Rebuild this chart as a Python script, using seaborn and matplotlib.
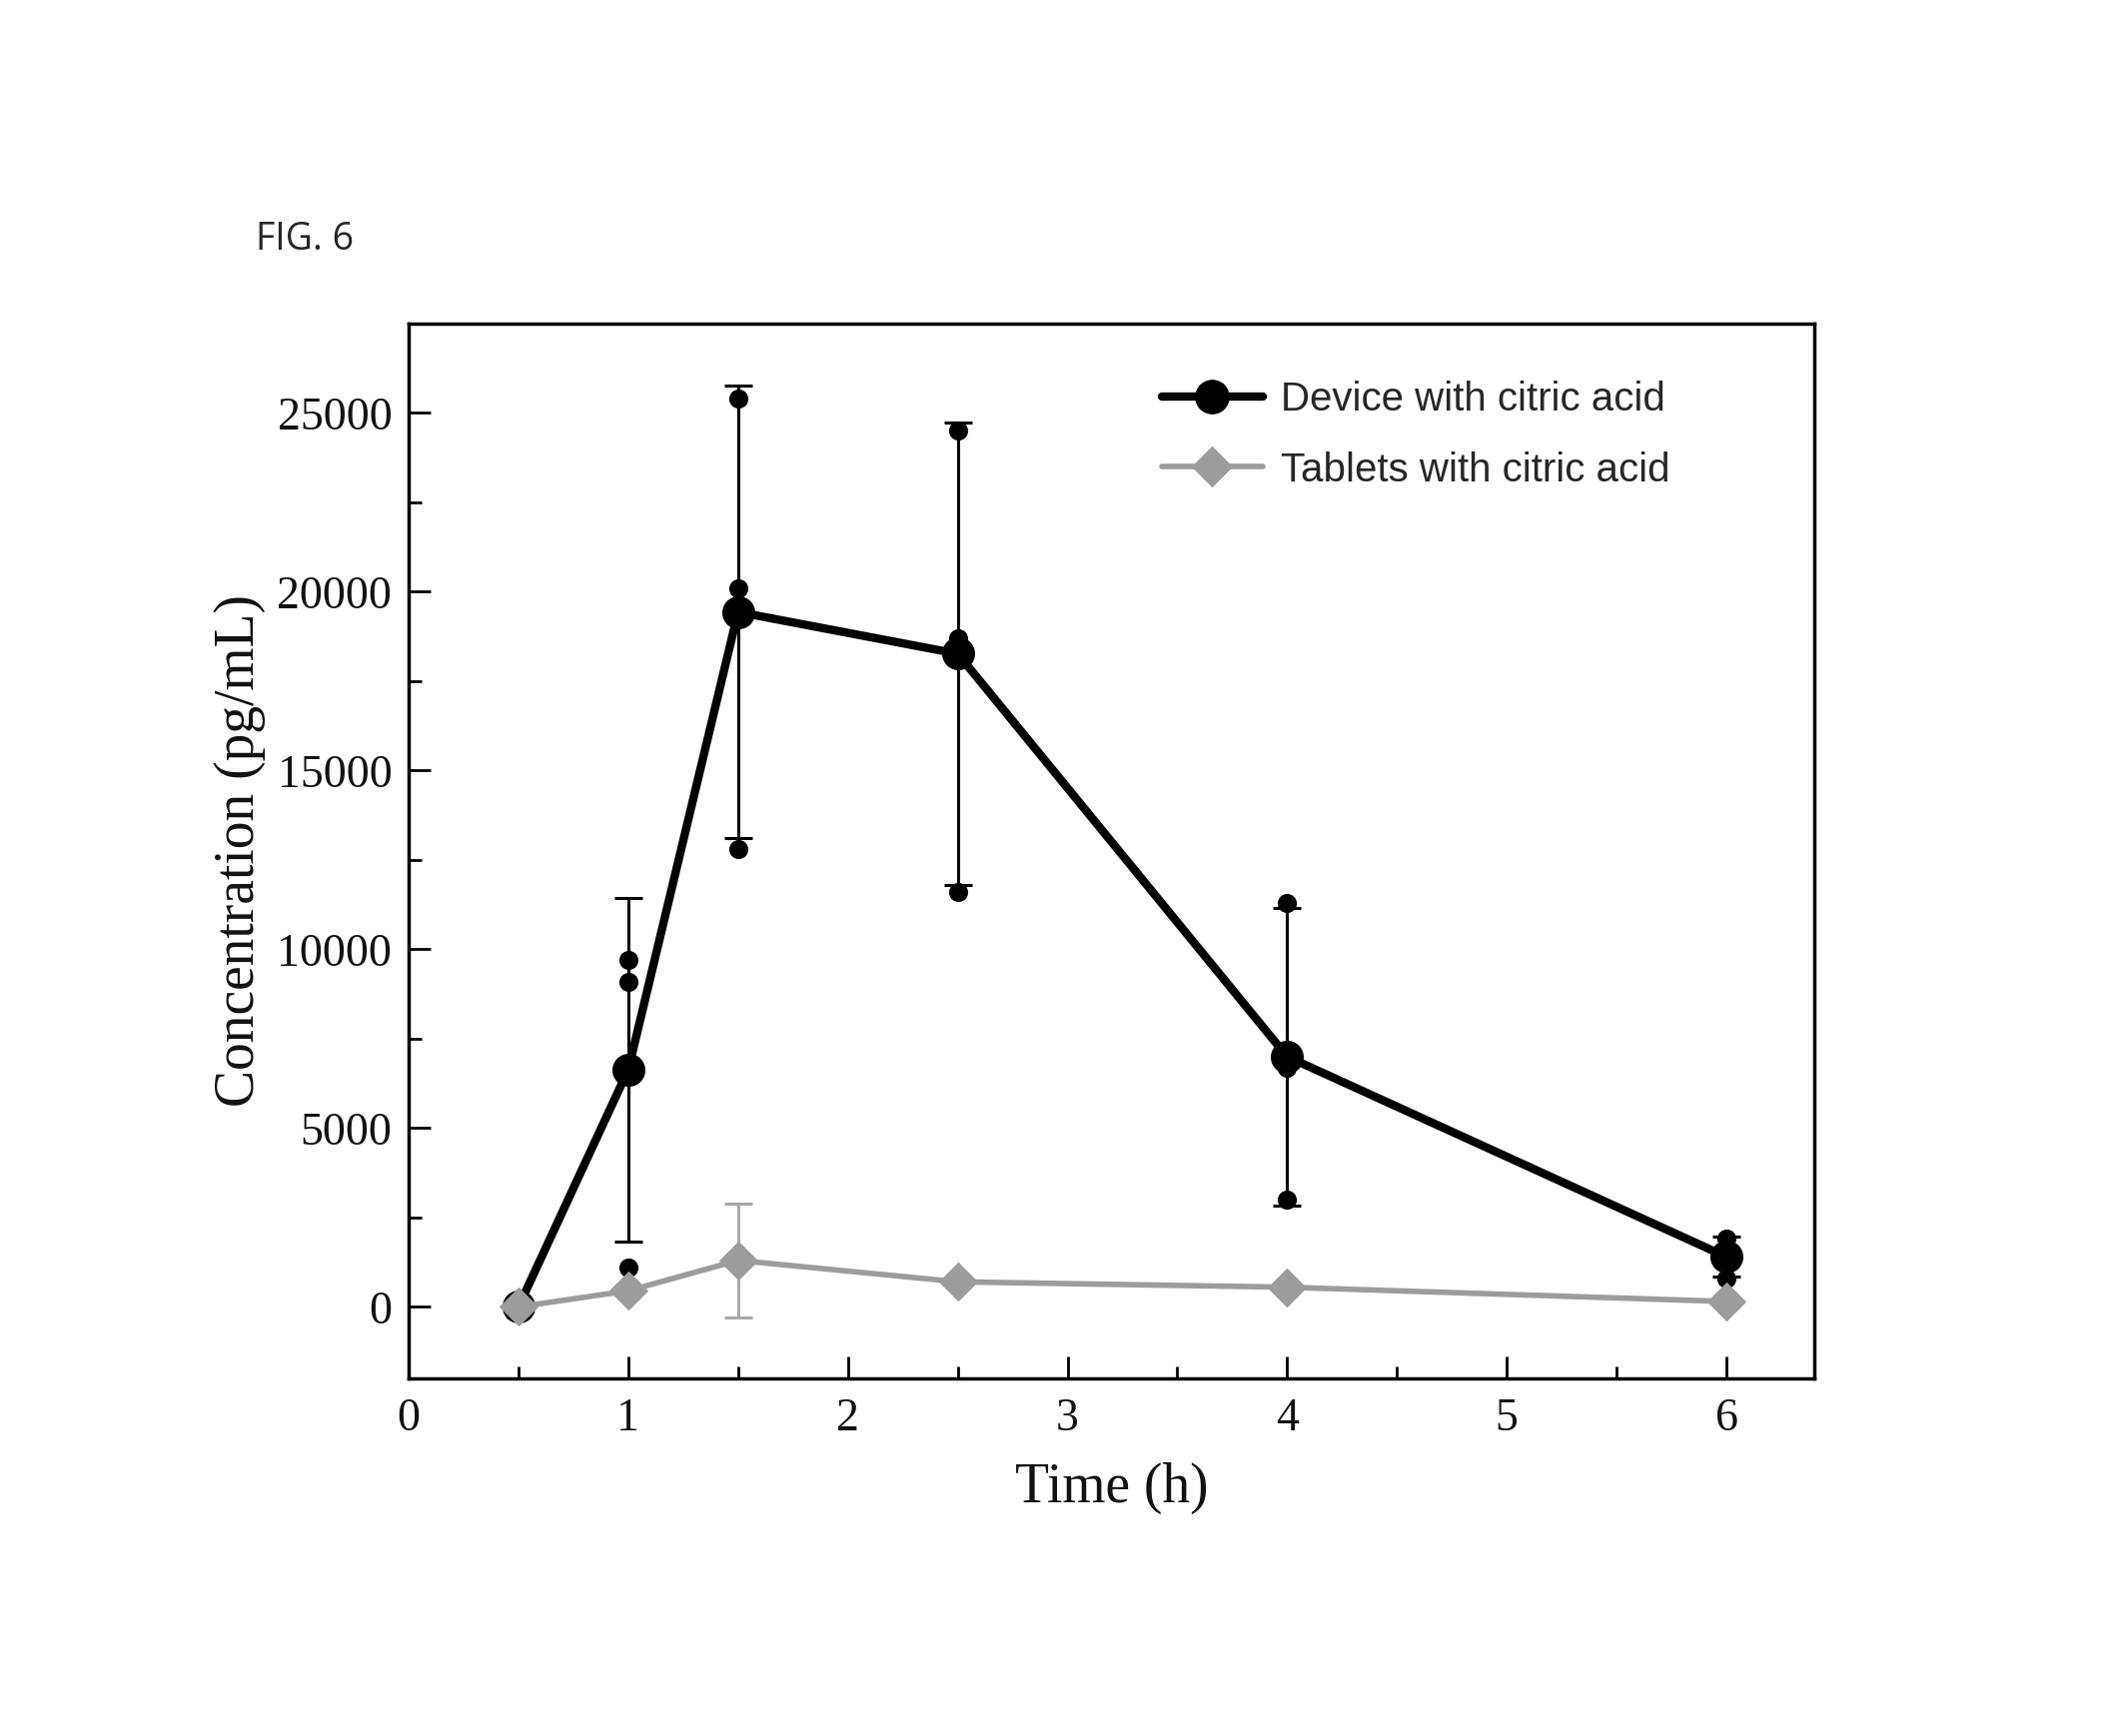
import numpy as np
import pandas as pd
import matplotlib
matplotlib.use("Agg")
import matplotlib.pyplot as plt
from matplotlib.ticker import MultipleLocator
import seaborn as sns

# device: three replicates per time point (pg/mL)
device_time = [0.5, 0.5, 0.5, 1, 1, 1, 1.5, 1.5, 1.5, 2.5, 2.5, 2.5, 4, 4, 4, 6, 6, 6]
device_conc = [0, 0, 0, 9700, 9100, 1100, 25400, 20100, 12800,
               24500, 18700, 11600, 11300, 6700, 3000, 1900, 1500, 800]

# tablets: mean and sd per time point
tablet_time = [0.5, 1, 1.5, 2.5, 4, 6]
tablet_mean = [0, 450, 1300, 700, 550, 150]
tablet_sd = [0, 0, 1600, 0, 0, 0]

x_ticks = [0, 1, 2, 3, 4, 5, 6]
y_ticks = [0, 5000, 10000, 15000, 20000, 25000]

serif = "Liberation Serif"
sans = "Liberation Sans"
gray = "#9c9c9c"

sns.set_theme(style="white")
plt.rcParams["font.family"] = [serif, "DejaVu Serif"]

fig = plt.figure(figsize=(21.15, 17.38), dpi=100)
ax = fig.add_axes([0.1934, 0.206, 0.6652, 0.6076])

device = pd.DataFrame({"time": device_time, "conc": device_conc})
tablets = pd.DataFrame({"time": tablet_time, "conc": tablet_mean, "sd": tablet_sd})

# replicate dots
sns.scatterplot(data=device, x="time", y="conc", ax=ax, color="black",
                s=190, linewidth=0, zorder=3, legend=False)

# mean line with SD bars
sns.lineplot(data=device, x="time", y="conc", ax=ax, color="black",
             estimator="mean", errorbar="sd", err_style="bars",
             err_kws={"capsize": 10, "elinewidth": 2.2, "capthick": 2.2},
             marker="o", markersize=23, markeredgecolor="black", linewidth=6,
             label="Device with citric acid", zorder=4)

tab = tablets[tablets["sd"] > 0]
ax.errorbar(tab["time"], tab["conc"], yerr=tab["sd"], fmt="none",
            ecolor="#a8a8a8", elinewidth=2.2, capsize=10, capthick=2.2, zorder=5)
sns.lineplot(data=tablets, x="time", y="conc", ax=ax, color=gray,
             marker="D", markersize=19, markeredgecolor=gray, linewidth=4,
             label="Tablets with citric acid", zorder=6)

ax.set_xlim(0, 6.4)
ax.set_ylim(-2000, 27500)
ax.set_xticks(x_ticks)
ax.set_yticks(y_ticks)
ax.xaxis.set_minor_locator(MultipleLocator(0.5))
ax.yaxis.set_minor_locator(MultipleLocator(2500))
ax.tick_params(which="major", direction="in", length=16, width=2,
               labelsize=33, color="black", labelcolor="#111111")
ax.tick_params(axis="x", which="major", pad=14)
ax.tick_params(axis="y", which="major", pad=12)
ax.tick_params(which="minor", direction="in", length=9, width=2, color="black")
ax.tick_params(bottom=True, left=True, which="both")

for s in ax.spines.values():
    s.set_color("black")
    s.set_linewidth(2.5)

ax.set_xlabel("Time (h)", fontsize=40, labelpad=16, color="#111111")
ax.set_ylabel("Concentration (pg/mL)", fontsize=40, labelpad=8, color="#111111")

ax.legend(loc="upper left", bbox_to_anchor=(0.51, 0.98), frameon=False,
          prop={"family": sans, "size": 29}, handlelength=2.5,
          handletextpad=0.45, labelspacing=0.8, markerscale=1.05)

fig.text(0.121, 0.862, "FIG. 6", fontsize=27, family=["Open Sans", "DejaVu Sans"],
         va="center", ha="left")

fig.savefig("out.png", dpi=100)
